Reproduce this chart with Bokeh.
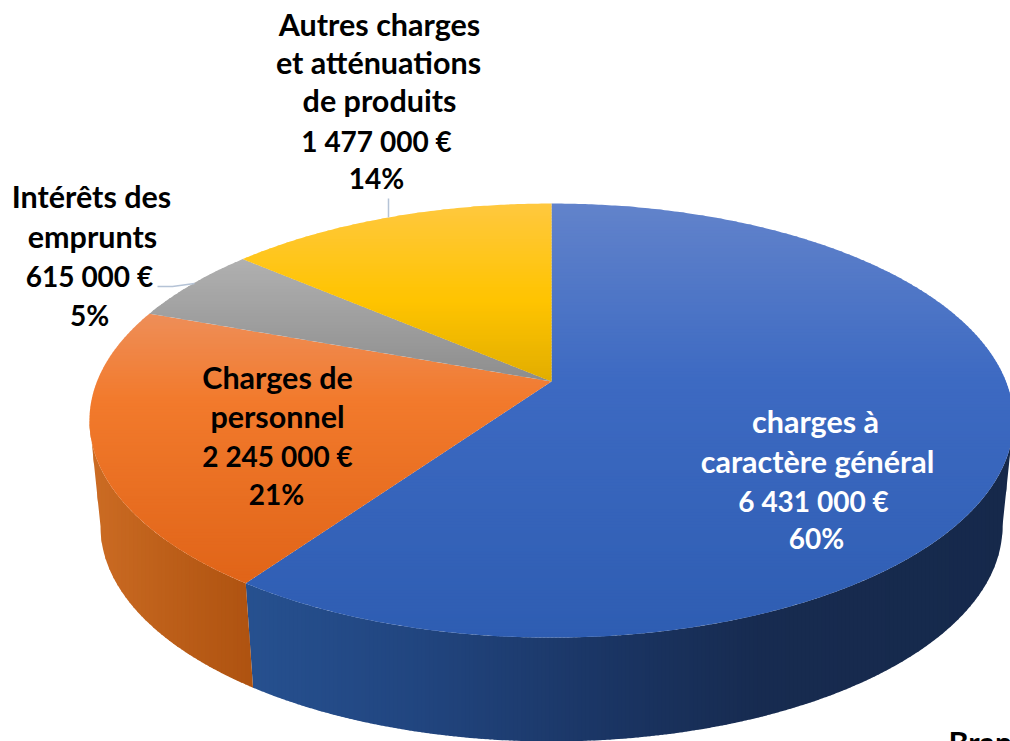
import math
from bokeh.plotting import figure
from bokeh.models import Range1d, ColumnDataSource
from bokeh.core.properties import value
from bokeh.embed import file_html
from bokeh.resources import INLINE

# Data
categories = ["charges à caractère général", "Charges de personnel", "Intérêts des emprunts",
              "Autres charges et atténuations de produits"]
amounts = [6431000, 2245000, 615000, 1477000]
amount_labels = ["6 431 000 €", "2 245 000 €", "615 000 €", "1 477 000 €"]
percent_labels = ["60%", "21%", "5%", "14%"]

# Style: vertical gradients of the top face (y, colour) and horizontal gradients of the wall (x, colour)
top_stops = [
    [(203, "#6283CB"), (380, "#3D6AC2"), (640, "#2E5DB2")],
    [(314, "#EE8E58"), (400, "#F27A2C"), (585, "#E06418")],
    [(259, "#B0B0B0"), (385, "#8C8C8C")],
    [(203, "#FFC83F"), (300, "#FFC400"), (385, "#E0AC00")],
]
wall_stops = [
    [(253, "#26508F"), (420, "#21457F"), (620, "#1A3462"), (760, "#172B50"), (1012, "#16294B")],
    [(90, "#CC6C24"), (160, "#BE601A"), (255, "#AE5210")],
]

# Projection of the pie
CX, CY0, A, B, K = 551.0, 381.0, 454.5, 210.0, 0.18
ELL_CY, BOT_CY, SX, SY = 420.0, 526.0, 0.976, 0.99


def top_pt(deg):
    t = math.radians(deg)
    X, Y = math.sin(t), -math.cos(t)
    d = 1 - K * Y
    return CX + A * X / d, CY0 + B * Y / d


def bot_pt(deg):
    x, y = top_pt(deg)
    return CX + SX * (x - CX), BOT_CY + SY * (y - ELL_CY)


def hex2rgb(h):
    return tuple(int(h[i:i + 2], 16) for i in (1, 3, 5))


def grad(stops, v):
    if v <= stops[0][0]:
        return stops[0][1]
    for (a, ca), (b, cb) in zip(stops, stops[1:]):
        if v <= b:
            f = (v - a) / (b - a)
            ra, rb = hex2rgb(ca), hex2rgb(cb)
            return "#%02x%02x%02x" % tuple(round(p + (q - p) * f) for p, q in zip(ra, rb))
    return stops[-1][1]


def clip(poly, lim, axis, keep_above):
    out = []
    inside = (lambda p: p[axis] >= lim) if keep_above else (lambda p: p[axis] <= lim)
    for i, p in enumerate(poly):
        q = poly[(i + 1) % len(poly)]
        if inside(p):
            out.append(p)
        if inside(p) != inside(q):
            f = (lim - p[axis]) / (q[axis] - p[axis])
            out.append((p[0] + (q[0] - p[0]) * f, p[1] + (q[1] - p[1]) * f))
    return out


def add_bands(poly, axis, step, stops, xs, ys, cols):
    lo = min(q[axis] for q in poly)
    hi = max(q[axis] for q in poly)
    v = lo
    while v < hi:
        band = clip(clip(poly, v - 0.01, axis, True), v + step + 0.7, axis, False)
        if len(band) >= 3:
            xs.append([q[0] for q in band])
            ys.append([q[1] for q in band])
            cols.append(grad(stops, v + step / 2))
        v += step


total = sum(amounts)
spans = []
cum = 0.0
for v in amounts:
    spans.append((cum, cum + 360.0 * v / total))
    cum += 360.0 * v / total

xs, ys, cols = [], [], []
L_T, R_T = 180 + math.degrees(math.acos(K)), 180 - math.degrees(math.acos(K))

# Walls
for i, (a0, a1) in enumerate(spans[:2]):
    lo, hi = max(a0, R_T), min(a1, L_T)
    n = int((hi - lo) * 2) + 2
    angs = [lo + (hi - lo) * j / n for j in range(n + 1)]
    poly = [top_pt(d) for d in angs] + [bot_pt(d) for d in reversed(angs)]
    add_bands(poly, 0, 4.0, wall_stops[i], xs, ys, cols)

# Top faces, cut in horizontal bands
for i, (a0, a1) in enumerate(spans):
    n = max(8, int((a1 - a0) * 2))
    poly = [(CX, CY0)] + [top_pt(a0 + (a1 - a0) * j / n) for j in range(n + 1)]
    add_bands(poly, 1, 3.0, top_stops[i], xs, ys, cols)

p = figure(width=1010, height=741, x_range=Range1d(0, 1010), y_range=Range1d(741, 0),
           output_backend="svg", toolbar_location=None, min_border=0)
p.axis.visible = False
p.xgrid.visible = False
p.ygrid.visible = False
p.outline_line_color = None
p.background_fill_color = "white"

p.patches("xs", "ys", fill_color="cols", line_color=None,
          source=ColumnDataSource(dict(xs=xs, ys=ys, cols=cols)))

# Leader lines
LEAD = "#B5C3D6"
p.line([388, 388], [198, 217], line_color=LEAD, line_width=1.5)
p.line([157, 172, 194], [286, 286, 283], line_color=LEAD, line_width=1.5)


def label(x, y, txt, size, color="#000000"):
    p.text([x], [y], text=[txt], text_font=value("Lato"), text_font_style="bold",
           text_font_size=size, text_color=color, text_align="center", text_baseline="middle")


WORD, NUM = "30.5px", "28px"
for x, y, t, s in [(379, 23, "Autres charges", WORD), (378, 61, "et atténuations", WORD),
                   (379, 99, "de produits", WORD),
                   (376, 140, amount_labels[3], NUM), (376, 177, percent_labels[3], NUM)]:
    label(x, y, t, s)
for x, y, t, s in [(91, 195, "Intérêts des", WORD), (92, 235, "emprunts", WORD),
                   (89, 275, amount_labels[2], NUM), (89, 314, percent_labels[2], NUM)]:
    label(x, y, t, s)
for x, y, t, s in [(277, 376, "Charges de", WORD), (277, 415, "personnel", WORD),
                   (277, 455, amount_labels[1], NUM), (276, 493, percent_labels[1], NUM)]:
    label(x, y, t, s)
for x, y, t, s in [(815, 420, "charges à", WORD), (817, 460, "caractère général", WORD),
                   (813, 500, amount_labels[0], NUM), (816, 537, percent_labels[0], NUM)]:
    label(x, y, t, s, "#FFFFFF")

p.text([948], [741], text=["Bran"], text_font=value("Lato"), text_font_style="bold",
       text_font_size=WORD, text_color="#000000", text_align="left", text_baseline="middle",
       y_offset=0)

open("out.html", "w").write(file_html(p, INLINE))
